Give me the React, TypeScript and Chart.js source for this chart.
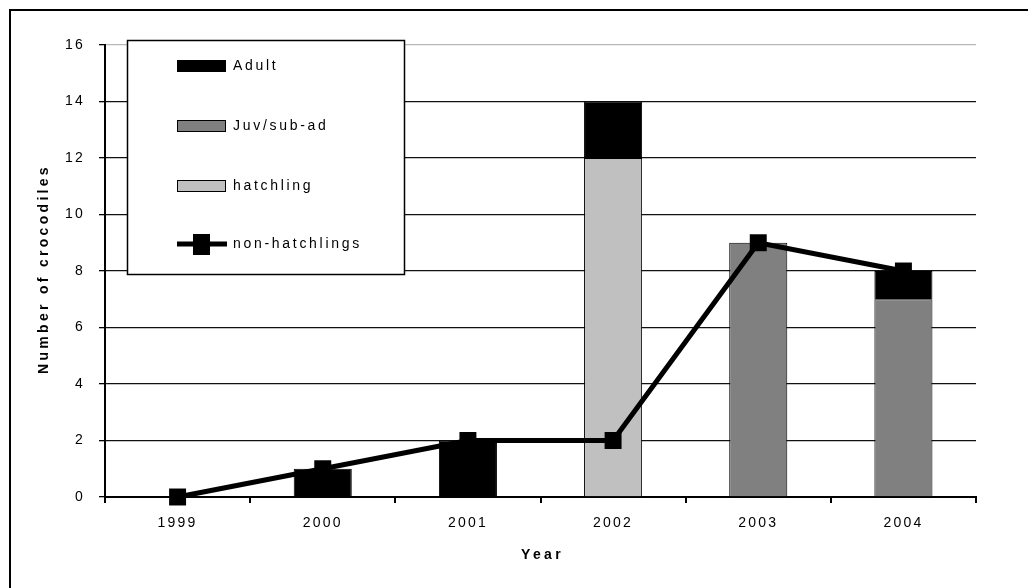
import React, { useEffect, useRef } from "react";
import { Chart, registerables } from "chart.js";

Chart.register(...registerables);

// Survey years and counts per size class
const years = ["1999", "2000", "2001", "2002", "2003", "2004"];
const adult = [0, 1, 2, 2, 0, 1];
const juvSubAd = [0, 0, 0, 0, 9, 7];
const hatchling = [0, 0, 0, 12, 0, 0];
const nonHatchlings = [0, 1, 2, 2, 9, 8];
const yTicks = [0, 2, 4, 6, 8, 10, 12, 14, 16];

const legendLabels = ["Adult", "Juv/sub-ad", "hatchling", "non-hatchlings"];
const xTitle = "Year";
const yTitle = "Number of crocodiles";
const colors = { adult: "#000000", juv: "#808080", hatchling: "#c0c0c0", line: "#000000" };

const FONT = "Arial, 'Liberation Sans', sans-serif";

// Boxed legend drawn inside the plot area, over the gridlines
const boxLegend = {
  id: "boxLegend",
  afterDatasetsDraw(chart: any) {
    const ctx = chart.ctx as CanvasRenderingContext2D;
    ctx.save();
    ctx.fillStyle = "#ffffff";
    ctx.fillRect(127, 40, 277, 234);
    ctx.strokeStyle = "#000";
    ctx.lineWidth = 1.5;
    ctx.strokeRect(127.5, 40.5, 277, 234);

    const rows = [66, 126, 186, 244];
    const fills = [colors.adult, colors.juv, colors.hatchling];
    for (let i = 0; i < 3; i++) {
      ctx.fillStyle = fills[i];
      ctx.fillRect(177, rows[i] - 6, 49, 12);
      ctx.lineWidth = 1;
      ctx.strokeStyle = "#000";
      ctx.strokeRect(177.5, rows[i] - 5.5, 48, 11);
    }
    // line + marker sample
    ctx.strokeStyle = colors.line;
    ctx.lineWidth = 5;
    ctx.beginPath();
    ctx.moveTo(177, rows[3]);
    ctx.lineTo(227, rows[3]);
    ctx.stroke();
    ctx.fillStyle = colors.line;
    ctx.fillRect(193, rows[3] - 10, 17, 21);

    ctx.fillStyle = "#000";
    ctx.font = `14px ${FONT}`;
    (ctx as any).letterSpacing = "2.7px";
    ctx.textAlign = "left";
    ctx.textBaseline = "middle";
    for (let i = 0; i < legendLabels.length; i++) {
      ctx.fillText(legendLabels[i], 233, rows[i]);
    }
    ctx.restore();
  },
};

// Spaced-out tick lettering, plus the two axis titles with wider spacing
const spacedText = {
  id: "spacedText",
  beforeDraw(chart: any) {
    (chart.ctx as any).letterSpacing = "2.2px";
  },
  afterDraw(chart: any) {
    const ctx = chart.ctx as CanvasRenderingContext2D;
    const area = chart.chartArea;
    ctx.save();
    ctx.fillStyle = "#000";
    ctx.font = `bold 14px ${FONT}`;
    (ctx as any).letterSpacing = "3.3px";
    ctx.textAlign = "center";
    ctx.textBaseline = "middle";
    ctx.fillText(xTitle, (area.left + area.right) / 2 + 2, 555);
    ctx.translate(44, (area.top + area.bottom) / 2);
    ctx.rotate(-Math.PI / 2);
    ctx.fillText(yTitle, 2, 0);
    ctx.restore();
  },
};

export default function App() {
  const ref = useRef<HTMLCanvasElement>(null);

  useEffect(() => {
    if (!ref.current) return;
    const chart = new Chart(ref.current, {
      type: "bar",
      data: {
        labels: years,
        datasets: [
          {
            type: "line",
            label: legendLabels[3],
            data: nonHatchlings,
            stack: "nh",
            borderColor: colors.line,
            backgroundColor: colors.line,
            borderWidth: 5,
            pointStyle: "rect",
            pointRadius: 12,
            pointBorderWidth: 0,
            clip: false,
            order: 0,
          } as any,
          {
            label: legendLabels[1],
            data: juvSubAd,
            stack: "bars",
            backgroundColor: colors.juv,
            borderColor: "#000",
            borderWidth: 1,
            order: 1,
          },
          {
            label: legendLabels[2],
            data: hatchling,
            stack: "bars",
            backgroundColor: colors.hatchling,
            borderColor: "#000",
            borderWidth: 1,
            order: 2,
          },
          {
            label: legendLabels[0],
            data: adult,
            stack: "bars",
            backgroundColor: colors.adult,
            borderColor: "#000",
            borderWidth: 1,
            order: 3,
          },
        ],
      },
      options: {
        animation: false,
        responsive: false,
        devicePixelRatio: 1,
        layout: { padding: { left: 0, top: 45, right: 52, bottom: 0 } },
        datasets: { bar: { barPercentage: 0.4, categoryPercentage: 1 } },
        plugins: { legend: { display: false }, tooltip: { enabled: false } },
        scales: {
          x: {
            stacked: true,
            afterFit: (s: any) => { s.height = 91; },
            grid: {
              drawOnChartArea: false,
              drawTicks: true,
              tickLength: 6,
              color: "#000",
              lineWidth: 2,
            },
            border: { display: true, color: "#000", width: 2 },
            ticks: { color: "#000", font: { family: FONT, size: 14 }, padding: 12, maxRotation: 0 },
          },
          y: {
            stacked: true,
            min: 0,
            max: 16,
            afterFit: (s: any) => { s.width = 105; },
            afterBuildTicks: (s: any) => { s.ticks = yTicks.map((v) => ({ value: v })); },
            grid: {
              color: (c: any) => (c.tick && c.tick.value === 16 ? "#b8b8b8" : "#111"),
              lineWidth: 1.3,
              tickLength: 6,
              tickColor: "#000",
            },
            border: { display: true, color: "#000", width: 2 },
            ticks: { color: "#000", font: { family: FONT, size: 14 }, padding: 14 },
          },
        },
      },
      plugins: [spacedText, boxLegend],
    });
    return () => chart.destroy();
  }, []);

  return (
    <div style={{ position: "fixed", left: 0, top: 0, width: 1028, height: 588, background: "#fff" }}>
      <div
        style={{
          position: "absolute",
          left: 9,
          top: 9,
          width: 1019,
          height: 579,
          borderTop: "2px solid #000",
          borderLeft: "2px solid #000",
          boxSizing: "border-box",
        }}
      />
      <canvas ref={ref} width={1028} height={588} style={{ position: "absolute", left: 0, top: 0 }} />
    </div>
  );
}
